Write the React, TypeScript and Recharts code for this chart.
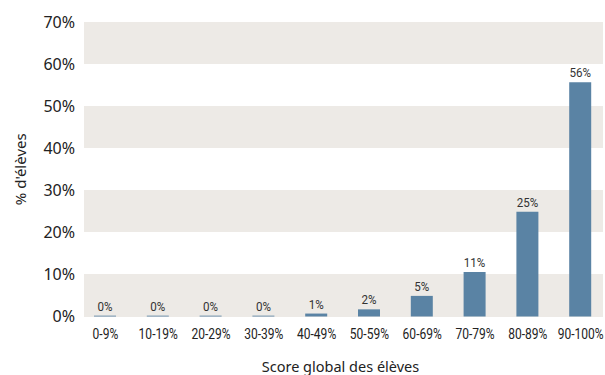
import { BarChart, Bar, XAxis, YAxis, CartesianGrid, LabelList } from "recharts";

if (typeof document !== "undefined") {
    document.body.style.margin = "0";
    document.body.style.overflow = "hidden";
}

const categories = ["0-9%", "10-19%", "20-29%", "30-39%", "40-49%", "50-59%", "60-69%", "70-79%", "80-89%", "90-100%"];
const shares = [0.2, 0.2, 0.2, 0.2, 0.7, 1.7, 4.9, 10.6, 24.9, 55.7];
const shareLabels = ["0%", "0%", "0%", "0%", "1%", "2%", "5%", "11%", "25%", "56%"];
const yTicks = [0, 10, 20, 30, 40, 50, 60, 70];

const data = categories.map((c, i) => ({ name: c, value: shares[i], label: shareLabels[i] }));

const BAR = "#5a83a4";
const STRIPE = "#edeae6";
const TEXT = "#222";
const SANS = "'Noto Sans', 'Open Sans', sans-serif";
const COND = "Roboto, 'Noto Sans', sans-serif";

// the source uses a condensed face; squeeze Roboto horizontally instead
function Condensed({ x, y, children, size, fill = TEXT, dy }: any) {
    return (
        <text
            transform={`translate(${x},${y}) scale(0.86,1)`}
            textAnchor="middle"
            dy={dy}
            fill={fill}
            fontSize={size}
            fontFamily={COND}
        >
            {children}
        </text>
    );
}

function XTick(props: any) {
    const { x, y, payload } = props;
    return (
        <Condensed x={x} y={y} size={14} dy="0.71em">
            {payload.value}
        </Condensed>
    );
}

function BarLabel(props: any) {
    const { x, y, width, value } = props;
    return (
        <Condensed x={x + width / 2} y={y - 5} size={13.5} fill="#333">
            {value}
        </Condensed>
    );
}

export default function App() {
    return (
        <BarChart
            width={605}
            height={375}
            data={data}
            margin={{ top: 22, right: 2, bottom: 0, left: 0 }}
            barSize={22}
        >
            {/* alternating bands, grey on top */}
            <CartesianGrid vertical={false} stroke="none" horizontalFill={[STRIPE, "#ffffff"]} />
            <XAxis
                dataKey="name"
                axisLine={false}
                tickLine={false}
                tickSize={0}
                tickMargin={13}
                height={58.5}
                padding={{ left: -5, right: -4 }}
                interval={0}
                tick={<XTick />}
                label={{ value: "Score global des élèves", position: "insideBottom", offset: 3, dx: -3, fill: TEXT, fontSize: 14.5, fontFamily: SANS }}
            />
            <YAxis
                domain={[0, 70]}
                ticks={yTicks}
                axisLine={false}
                tickLine={false}
                tickSize={0}
                tickMargin={9}
                width={84}
                tickFormatter={(v) => `${v}%`}
                tick={{ fill: TEXT, fontSize: 16, fontFamily: SANS }}
                label={{
                    content: (props: any) => {
                        const vb = props.viewBox;
                        const cx = vb.x + 20;
                        const cy = vb.y + vb.height / 2;
                        return (
                            <text x={cx} y={cy} transform={`rotate(-90 ${cx} ${cy})`} textAnchor="middle" dominantBaseline="central" fill={TEXT} fontSize={15} fontFamily={SANS}>
                                % d'élèves
                            </text>
                        );
                    },
                }}
            />
            <Bar dataKey="value" fill={BAR} isAnimationActive={false}>
                <LabelList dataKey="label" content={<BarLabel />} />
            </Bar>
        </BarChart>
    );
}
